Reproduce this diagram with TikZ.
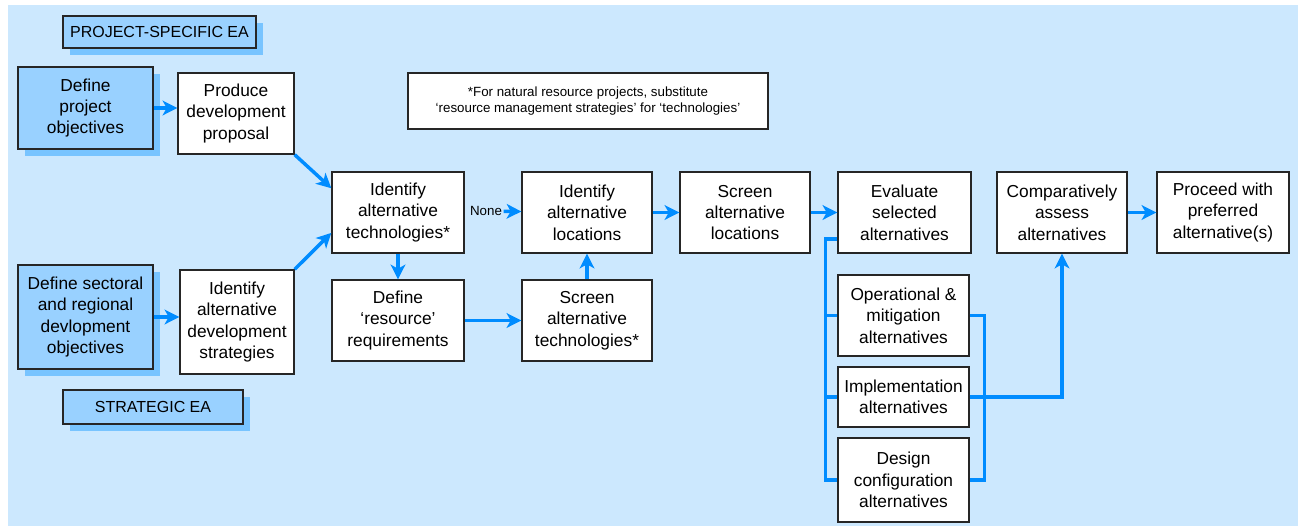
\documentclass[tikz,border=0pt]{standalone}
\usepackage{fontspec}
\setmainfont{Liberation Sans}
\usetikzlibrary{positioning, arrows.meta, shadows}

\definecolor{bgblue}{RGB}{204,232,254}
\definecolor{boxblue}{RGB}{153,209,255}
\definecolor{shadowblue}{RGB}{120,196,255}
\definecolor{linkblue}{RGB}{0,140,255}

\begin{document}
\begin{tikzpicture}[
    x=0.75pt, y=-0.75pt,
    step box/.style={rectangle, draw=black!85, line width=1pt, fill=white,
                  align=center, inner sep=2pt,
                  font=\fontsize{13}{16}\selectfont},
    obj box/.style={step box, fill=boxblue,
                  drop shadow={shadow xshift=5pt, shadow yshift=-5pt,
                               fill=shadowblue, opacity=1}},
    tag box/.style={obj box, font=\fontsize{12}{14}\selectfont},
    arrow/.style={-{Stealth[length=11pt, width=11pt, inset=3pt]}, line width=2.6pt, linkblue},
    link/.style={line width=2.6pt, linkblue},
    smalllabel/.style={font=\fontsize{10}{12}\selectfont}
]

    % Background
    \useasboundingbox (0,0) rectangle (1304,526);
    \fill[bgblue] (8,5) rectangle (1298,526);

    % Project-specific EA
    \node[tag box, minimum width=144.75pt, minimum height=24pt] (pse) at (159.5,32) {PROJECT-SPECIFIC EA};
    \node[obj box, minimum width=101.25pt, minimum height=61.5pt] (defproj) at (85.5,108) {Define\\project\\objectives};
    \node[step box, minimum width=87pt, minimum height=60.75pt] (produce) at (236,113.5) {Produce\\development\\proposal};

    % Strategic EA
    \node[obj box, minimum width=101.25pt, minimum height=78pt] (defsect) at (85.5,317) {Define sectoral\\and regional\\devlopment\\objectives};
    \node[step box, minimum width=85.5pt, minimum height=78pt] (altstrat) at (237,322) {Identify\\alternative\\development\\strategies};
    \node[tag box, minimum width=135pt, minimum height=25.5pt] (sea) at (153,407) {STRATEGIC EA};

    % Footnote
    \node[step box, minimum width=270pt, minimum height=42pt, smalllabel] (note) at (588,101)
        {*For natural resource projects, substitute\\‘resource management strategies’ for ‘technologies’};

    % Technologies and locations
    \node[step box, minimum width=99pt, minimum height=60.75pt] (alttech) at (398,212.5) {Identify\\alternative\\technologies*};
    \node[step box, minimum width=99pt, minimum height=60.75pt] (resreq) at (398,320.5) {Define\\‘resource’\\requirements};
    \node[step box, minimum width=97.5pt, minimum height=60.75pt] (altloc) at (587,212.5) {Identify\\alternative\\locations};
    \node[step box, minimum width=97.5pt, minimum height=60.75pt] (scrtech) at (587,320.5) {Screen\\alternative\\technologies*};
    \node[step box, minimum width=97.5pt, minimum height=60.75pt] (scrloc) at (745,212.5) {Screen\\alternative\\locations};
    \node[smalllabel, inner sep=1pt] (none) at (486,211) {None};

    % Evaluation
    \node[step box, minimum width=99.75pt, minimum height=60.75pt] (evalsel) at (904.5,212.5) {Evaluate\\selected\\alternatives};
    \node[step box, minimum width=98.25pt, minimum height=60.75pt] (oper) at (903.5,315.5) {Operational \&\\mitigation\\alternatives};
    \node[step box, minimum width=98.25pt, minimum height=45pt] (impl) at (903.5,397) {Implementation\\alternatives};
    \node[step box, minimum width=98.25pt, minimum height=63pt] (design) at (903.5,480) {Design\\configuration\\alternatives};
    \node[step box, minimum width=97.5pt, minimum height=60.75pt] (compare) at (1062,212.5) {Comparatively\\assess\\alternatives};
    \node[step box, minimum width=99pt, minimum height=60.75pt] (proceed) at (1223,212.5) {Proceed with\\preferred\\alternative(s)};

    % Arrows
    \draw[arrow] (defproj.east) -- (defproj.east -| produce.west);
    \draw[arrow] (defsect.east) -- (defsect.east -| altstrat.west);
    \draw[arrow] (produce.south east) -- (alttech.160);
    \draw[arrow] (altstrat.north east) -- (alttech.197);
    \draw[arrow] (alttech) -- (resreq);
    \draw[arrow] (resreq) -- (scrtech);
    \draw[arrow] (scrtech) -- (altloc);
    \draw[arrow] (none) -- (altloc);
    \draw[arrow] (altloc) -- (scrloc);
    \draw[arrow] (scrloc) -- (evalsel);
    \draw[arrow] (compare) -- (proceed);

    % Alternatives bus
    \coordinate (evalout) at ([yshift=-20pt]evalsel.west);
    \draw[link] (evalout) -- ++(-12,0) |- (design.west);
    \draw[link] (oper.west) -- ++(-12,0);
    \draw[link] (impl.west) -- ++(-12,0);
    \draw[link] (oper.east) -- ++(15,0) |- (design.east);
    \draw[arrow] (impl.east) -| (compare.south);

\end{tikzpicture}
\end{document}
